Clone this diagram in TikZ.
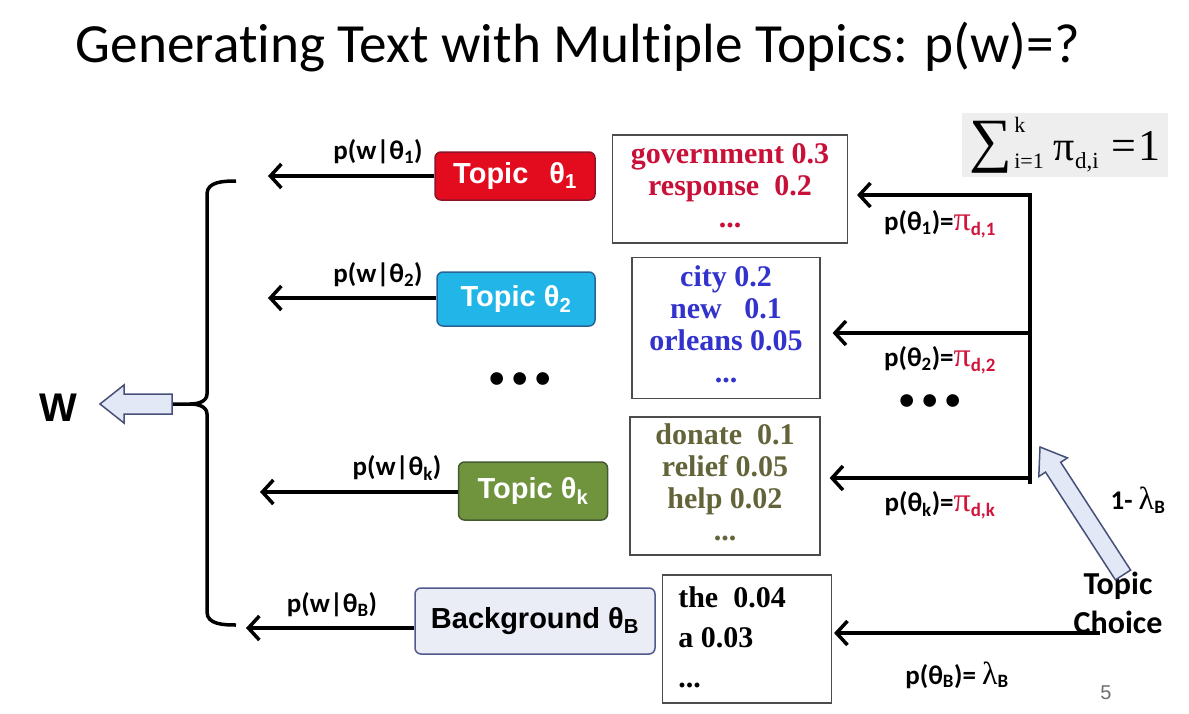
\documentclass[tikz,border=0pt]{standalone}
\usepackage{fontspec}
\setmainfont{Liberation Serif}
\newfontfamily\arialf{Liberation Sans}
\newfontfamily\calf{Carlito}
\newfontfamily\calnl[Ligatures=NoCommon]{Carlito}
\newfontfamily\serf{Liberation Serif}
\usetikzlibrary{arrows.meta}
\definecolor{tred}{RGB}{226,12,30}
\definecolor{tredb}{RGB}{140,20,40}
\definecolor{tblue}{RGB}{34,182,232}
\definecolor{tblueb}{RGB}{40,100,150}
\definecolor{tgreen}{RGB}{112,148,62}
\definecolor{tgreenb}{RGB}{70,90,50}
\definecolor{bgfill}{RGB}{234,236,246}
\definecolor{bgbord}{RGB}{80,90,140}
\definecolor{wred}{RGB}{200,16,56}
\definecolor{wblue}{RGB}{50,50,205}
\definecolor{wolive}{RGB}{100,100,58}
\definecolor{pired}{RGB}{210,20,60}
\definecolor{sumfill}{RGB}{238,238,238}
\definecolor{harrfill}{RGB}{226,232,246}
\definecolor{harrbord}{RGB}{70,80,120}
\definecolor{pagenum}{RGB}{110,110,110}
\newcommand{\pisym}{{\serf\mdseries\fontsize{34}{34}\selectfont π}}
\newcommand{\lamsym}{{\serf\mdseries\fontsize{32}{32}\selectfont λ}}
\tikzset{
  topicbox/.style={rounded corners=6pt, line width=1.5pt, minimum height=48pt,
     font=\arialf\bfseries\fontsize{29}{31}\selectfont, text=white, inner sep=0pt},
  wordbox/.style={draw=black!70, line width=1.2pt, fill=white, inner sep=0pt,
     font=\serf\bfseries\fontsize{30}{32}\selectfont},
  lbl/.style={font=\calf\bfseries\fontsize{27}{29}\selectfont, inner sep=0pt},
  arr/.style={line width=3.5pt, -{Straight Barb[length=11pt,width=24pt,line width=3.5pt]}},
  hollow/.style={fill=harrfill, draw=harrbord, line width=1.5pt, line join=miter},
  brace/.style={line width=3.5pt},
  dotsty/.style={font=\arialf\bfseries\fontsize{44}{44}\selectfont, inner sep=0pt}
}
\begin{document}
\begin{tikzpicture}[x=1pt,y=-1pt]
\useasboundingbox (0,0) rectangle (1189,713);
\fill[white] (0,0) rectangle (1189,713);

% title
\node[inner sep=0pt] (title) at (578,47) {\resizebox{1004pt}{!}{\calnl Generating Text with Multiple Topics: p(w)=?}};

% sum box
\node[fill=sumfill, minimum width=206pt, minimum height=64pt, inner sep=0pt] (sum) at (1065,145)
  {\serf\fontsize{60}{60}\selectfont ∑\hspace{2pt}\raisebox{-8pt}{\fontsize{22}{22}\selectfont\rlap{\raisebox{36pt}{k}}i=1}\hspace{10pt}{\fontsize{42}{42}\selectfont π}\raisebox{-8pt}{\fontsize{23}{23}\selectfont d,i}\hspace{13pt}{\fontsize{44}{44}\selectfont =\hspace{2pt}1}};

% topic boxes
\node[topicbox, fill=tred, draw=tredb, minimum width=160pt] (t1) at (515,176) {Topic\ \ \,θ\textsubscript{1}};
\node[topicbox, fill=tblue, draw=tblueb, minimum width=158pt, minimum height=54pt] (t2) at (516,299) {Topic θ\textsubscript{2}};
\node[topicbox, fill=tgreen, draw=tgreenb, minimum width=149pt, minimum height=58pt] (tk) at (533,491) {Topic θ\textsubscript{k}};
\node[topicbox, fill=bgfill, draw=bgbord, text=black, minimum width=240pt, minimum height=66pt] (tb) at (535,621) {Background θ\textsubscript{B}};

% word boxes
\node[wordbox, text=wred, minimum width=235pt, minimum height=108pt] (b1) at (730,189)
  {\begin{tabular}{@{}c@{}}government 0.3\\ response\ \ 0.2\\ ...\end{tabular}};
\node[wordbox, text=wblue, minimum width=188pt, minimum height=141pt] (b2) at (726,328)
  {\begin{tabular}{@{}c@{}}city 0.2\\ new\ \ \ 0.1\\ orleans 0.05\\ ...\end{tabular}};
\node[wordbox, text=wolive, minimum width=190pt, minimum height=138pt] (b3) at (725,486)
  {\begin{tabular}{@{}c@{}}donate\ \ 0.1\\ relief 0.05\\ help 0.02\\ ...\end{tabular}};
\node[wordbox, text=black, minimum width=169pt, minimum height=128pt, font=\serf\bfseries\fontsize{30}{40}\selectfont] (b4) at (747,639)
  {\raisebox{-8pt}{\begin{tabular}{@{}l@{}}the\ \ 0.04\\ a 0.03\\ ...\end{tabular}}\kern 30pt\null};

% left arrow end points
\coordinate (e1) at (268,176);
\coordinate (e2) at (268,298);
\coordinate (ek) at (260,492);
\coordinate (eb) at (246,628);
\draw[arr] (t1.west |- e1) -- (e1);
\draw[arr] (t2.west |- e2) -- (e2);
\draw[arr] (tk.west |- ek) -- (ek);
\draw[arr] (tb.west |- eb) -- (eb);

\node[lbl] (l1) at (378,152) {p(w|θ\textsubscript{1})};
\node[lbl] (l2) at (378,275) {p(w|θ\textsubscript{2})};
\node[lbl] (lk) at (397,468) {p(w|θ\textsubscript{k})};
\node[lbl] (lb) at (332,605) {p(w|θ\textsubscript{B})};

% brace
\coordinate (bt) at (236,181);
\coordinate (bb) at (236,625);
\coordinate (bm) at (172,404);
\draw[brace] (bt) to[out=180,in=90] (207,194) -- (207,394) to[out=-90,in=0] (190,404) -- (bm);
\draw[brace] (190,404) to[out=0,in=90] (207,414) -- (207,612) to[out=-90,in=180] (bb);

% hollow arrow to W
\node[inner sep=0pt, font=\arialf\bfseries\fontsize{40}{40}\selectfont] (w) at (58,408) {W};
\draw[hollow] (bm) ++(0,-10) -- (124,394) -- (124,385) -- (100,404) -- (124,423) -- (124,414) -- (172,414) -- cycle;

% dots
\node[dotsty] (d1) at (520,383) {•\,•\,•};
\node[dotsty] (d2) at (930,405) {•\,•\,•};

% right side
\coordinate (j1) at (1030,195);
\coordinate (j2) at (1030,333);
\coordinate (jk) at (1030,478);
\draw[line width=3.5pt] (1030,193) -- (1030,484);
\draw[arr, shorten >=9pt] (j1) -- (b1.east |- j1);
\draw[arr, shorten >=12pt] (j2) -- (b2.east |- j2);
\draw[arr, shorten >=9pt] (jk) -- (b3.east |- jk);
\coordinate (jb) at (1100,633);
\draw[arr, shorten >=2pt] (jb) -- (b4.east |- jb);

\node[lbl] (r1) at (940,224) {p(θ\textsubscript{1})=\textcolor{pired}{\pisym\textsubscript{d,1}}};
\node[lbl] (r2) at (940,360) {p(θ\textsubscript{2})=\textcolor{pired}{\pisym\textsubscript{d,2}}};
\node[lbl] (rk) at (940,505) {p(θ\textsubscript{k})=\textcolor{pired}{\pisym\textsubscript{d,k}}};
\node[lbl] (rb) at (957,675) {p(θ\textsubscript{B})= \lamsym\textsubscript{B}};

% topic choice
\node[font=\calf\bfseries\fontsize{32}{39}\selectfont, align=center, inner sep=0pt] (tc) at (1118,603) {Topic\\Choice};
\node[lbl] (lam) at (1138,500) {1- \lamsym\textsubscript{B}};
\draw[hollow] (1130.6,570.1) -- (1060.7,462.3) -- (1067.4,457.9) -- (1040,447) -- (1038.8,476.5) -- (1045.5,472.1) -- (1115.4,579.9) -- cycle;

\node[font=\arialf\fontsize{20}{20}\selectfont, text=pagenum, inner sep=0pt] (pg) at (1106,693) {5};
\end{tikzpicture}
\end{document}
